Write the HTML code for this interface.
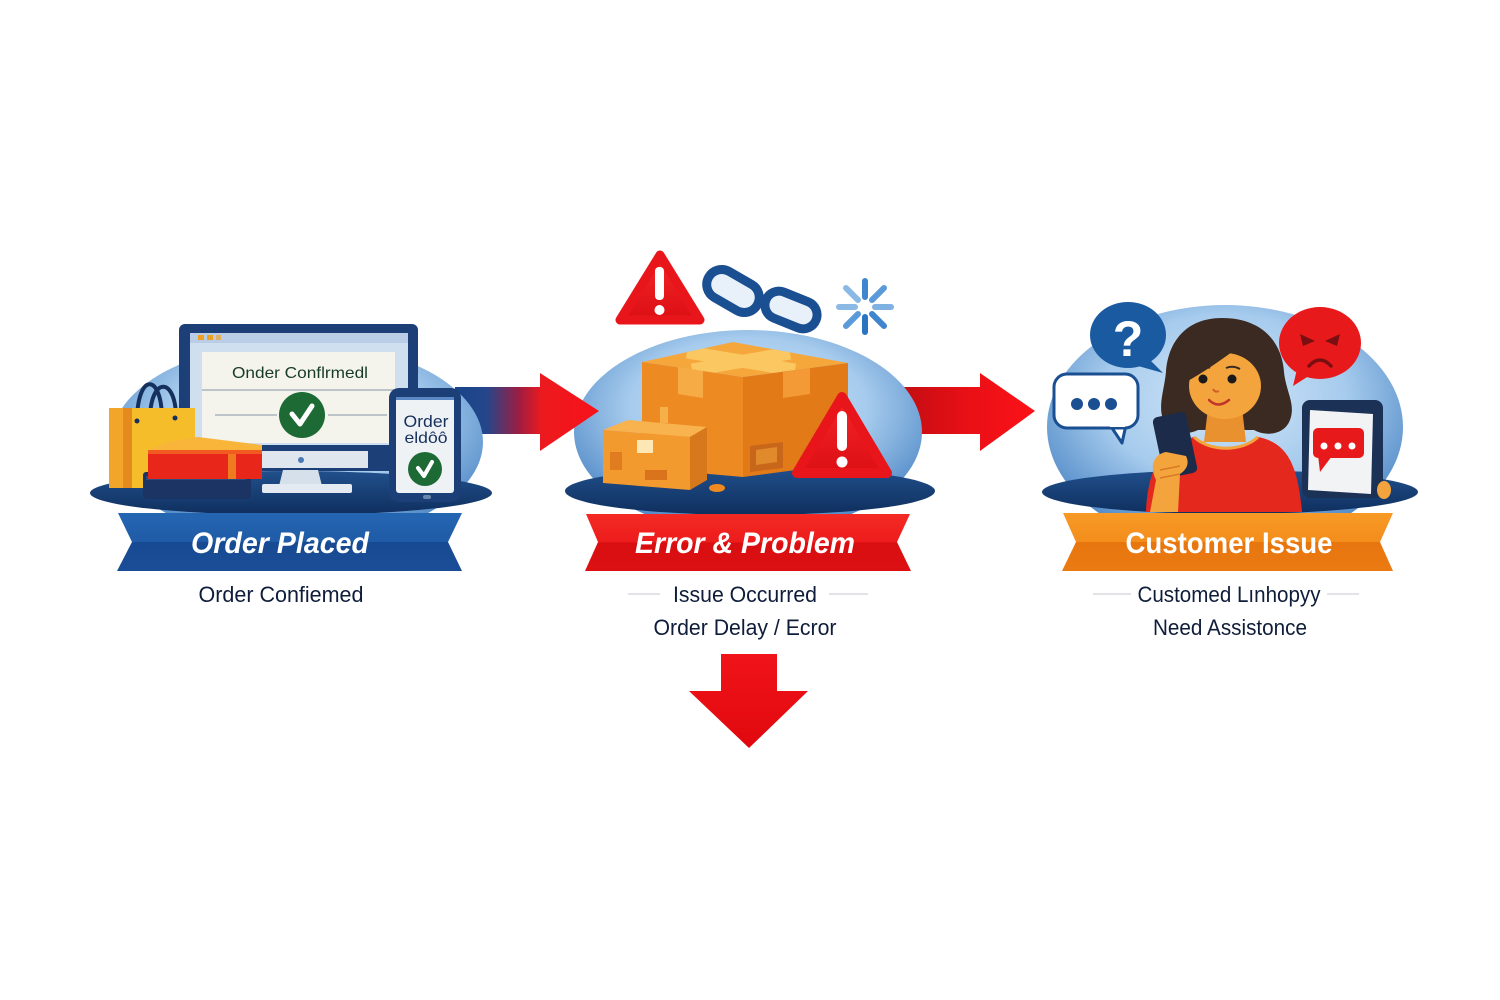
<!DOCTYPE html>
<html><head><meta charset="utf-8">
<style>
html,body{margin:0;padding:0;background:#fff;}
svg{display:block;}
</style></head>
<body>
<svg width="1500" height="1000" viewBox="0 0 1500 1000" xmlns="http://www.w3.org/2000/svg">
<defs>
<radialGradient id="blob" cx="0.5" cy="0.38" r="0.62">
<stop offset="0" stop-color="#d4e7f8"/>
<stop offset="0.55" stop-color="#a6cbed"/>
<stop offset="1" stop-color="#4c86c5"/>
</radialGradient>
<linearGradient id="base" x1="0" y1="0" x2="0" y2="1">
<stop offset="0" stop-color="#21508c"/>
<stop offset="1" stop-color="#0f2f5e"/>
</linearGradient>
<linearGradient id="a1" x1="462" y1="0" x2="600" y2="0" gradientUnits="userSpaceOnUse">
<stop offset="0" stop-color="#1b4589"/>
<stop offset="0.18" stop-color="#25468a"/>
<stop offset="0.42" stop-color="#a11c40"/>
<stop offset="0.58" stop-color="#ec1a1e"/>
<stop offset="1" stop-color="#f8121a"/>
</linearGradient>
<linearGradient id="a2" x1="905" y1="0" x2="1035" y2="0" gradientUnits="userSpaceOnUse">
<stop offset="0" stop-color="#c40d12"/>
<stop offset="0.5" stop-color="#ea1016"/>
<stop offset="1" stop-color="#fb1218"/>
</linearGradient>
<linearGradient id="a3" x1="0" y1="654" x2="0" y2="748" gradientUnits="userSpaceOnUse">
<stop offset="0" stop-color="#f0141a"/>
<stop offset="1" stop-color="#e0080e"/>
</linearGradient>
<linearGradient id="bBlue" x1="0" y1="0" x2="0" y2="1">
<stop offset="0" stop-color="#2566b3"/>
<stop offset="0.5" stop-color="#1f5ba6"/>
<stop offset="0.5" stop-color="#174a92"/>
<stop offset="1" stop-color="#1a4d96"/>
</linearGradient>
<linearGradient id="bRed" x1="0" y1="0" x2="0" y2="1">
<stop offset="0" stop-color="#f42a24"/>
<stop offset="0.5" stop-color="#ec1c1c"/>
<stop offset="0.5" stop-color="#d80e10"/>
<stop offset="1" stop-color="#dc1012"/>
</linearGradient>
<linearGradient id="bOr" x1="0" y1="0" x2="0" y2="1">
<stop offset="0" stop-color="#f89a26"/>
<stop offset="0.5" stop-color="#f38d1c"/>
<stop offset="0.5" stop-color="#e8760f"/>
<stop offset="1" stop-color="#ea7a12"/>
</linearGradient>
<linearGradient id="warn" x1="0" y1="0" x2="0" y2="1">
<stop offset="0" stop-color="#f4262a"/>
<stop offset="1" stop-color="#dc0f14"/>
</linearGradient>
<clipPath id="topface"><polygon points="642,362 733,342 848,363 743,377"/></clipPath>
</defs>

<rect width="1500" height="1000" fill="#fff"/>

<!-- arrow 2 (behind blob 2) -->
<rect x="900" y="387" width="82" height="47" fill="url(#a2)"/>
<polygon points="980,373 1035,411 980,451" fill="url(#a2)"/>

<!-- blob 2 -->
<ellipse cx="748" cy="432" rx="174" ry="102" fill="url(#blob)"/>
<ellipse cx="750" cy="491" rx="185" ry="24" fill="url(#base)"/>

<!-- arrow 1 -->
<rect x="455" y="387" width="87" height="47" fill="url(#a1)"/>
<polygon points="540,373 599,411 540,451" fill="url(#a1)"/>

<!-- blob 1 -->
<ellipse cx="297" cy="442" rx="186" ry="100" fill="url(#blob)"/>
<ellipse cx="291" cy="493" rx="201" ry="22" fill="url(#base)"/>

<!-- blob 3 -->
<ellipse cx="1225" cy="427" rx="178" ry="122" fill="url(#blob)"/>
<ellipse cx="1230" cy="492" rx="188" ry="22" fill="url(#base)"/>

<!-- down arrow -->
<rect x="721" y="654" width="56" height="40" fill="url(#a3)"/>
<polygon points="689,691 808,691 749,748" fill="url(#a3)"/>

<!-- ========== PANEL 1 ========== -->
<rect x="179" y="324" width="239" height="147" rx="6" fill="#1c3f77"/>
<rect x="190" y="333" width="218" height="112" fill="#cfdff0"/>
<rect x="190" y="333" width="218" height="10" fill="#b9cde6"/>
<rect x="198" y="335" width="6" height="5" fill="#f0a020"/>
<rect x="207" y="335" width="6" height="5" fill="#f0a020"/>
<rect x="216" y="335" width="5" height="5" fill="#e0b060"/>
<rect x="202" y="352" width="193" height="91" fill="#f4f4ec"/>
<text x="300" y="378" font-family="Liberation Sans, sans-serif" font-size="16" fill="#183a28" text-anchor="middle" textLength="136" lengthAdjust="spacingAndGlyphs">Onder Conflrmedl</text>
<line x1="202" y1="390" x2="395" y2="390" stroke="#a9b4bd" stroke-width="1.5"/>
<line x1="215" y1="415" x2="277" y2="415" stroke="#a9b4bd" stroke-width="1.5"/>
<line x1="328" y1="415" x2="387" y2="415" stroke="#a9b4bd" stroke-width="1.5"/>
<circle cx="302" cy="415" r="23" fill="#1d6a35"/>
<polyline points="292,414 300,424 312,406" fill="none" stroke="#fff" stroke-width="5" stroke-linecap="round" stroke-linejoin="round"/>
<rect x="258" y="451" width="110" height="17" fill="#dfe6ee"/>
<circle cx="301" cy="460" r="3" fill="#4a78b0"/>
<polygon points="283,470 318,470 322,486 279,486" fill="#d6e0ea"/>
<rect x="262" y="484" width="90" height="9" rx="2" fill="#e4eaf1"/>

<!-- phone -->
<rect x="389" y="388" width="72" height="114" rx="10" fill="#1c3f77"/>
<rect x="396" y="397" width="58" height="96" rx="3" fill="#eef2f4"/>
<rect x="396" y="397" width="58" height="3" fill="#5a88c4"/>
<text x="426" y="427" font-family="Liberation Sans, sans-serif" font-size="17" fill="#16305e" text-anchor="middle" textLength="45" lengthAdjust="spacingAndGlyphs">Order</text>
<text x="426" y="443" font-family="Liberation Sans, sans-serif" font-size="16" fill="#16305e" text-anchor="middle" textLength="43" lengthAdjust="spacingAndGlyphs">eldôô</text>
<circle cx="425" cy="469" r="17" fill="#1d6a35"/>
<polyline points="418,468 424,476 432,462" fill="none" stroke="#fff" stroke-width="4" stroke-linecap="round" stroke-linejoin="round"/>
<rect x="423" y="495" width="8" height="4" rx="2" fill="#6a86aa"/>

<!-- bag -->
<path d="M137,422 C137,372 162,372 162,420" fill="none" stroke="#16305e" stroke-width="4" stroke-linecap="round"/>
<path d="M150,420 C150,376 176,376 176,418" fill="none" stroke="#16305e" stroke-width="4" stroke-linecap="round"/>
<rect x="109" y="408" width="86" height="80" fill="#f6bd2a"/>
<rect x="109" y="408" width="14" height="80" fill="#f3a52a"/>
<rect x="123" y="408" width="9" height="80" fill="#e58a1c"/>
<circle cx="137" cy="421" r="2.5" fill="#16305e"/>
<circle cx="175" cy="418" r="2.5" fill="#16305e"/>

<!-- boxes -->
<rect x="143" y="472" width="108" height="27" rx="3" fill="#1b3463"/>
<rect x="146" y="476" width="100" height="4" fill="#2c4c80"/>
<polygon points="148,450 167,442 198,437 262,445 262,452 148,452" fill="#f8b53a"/>
<rect x="148" y="450" width="114" height="29" fill="#e8261a"/>
<rect x="228" y="450" width="8" height="29" fill="#f07a20"/>
<rect x="148" y="450" width="114" height="4" fill="#f35a22"/>

<!-- ========== PANEL 2 ========== -->
<polygon points="660,255 620,320 700,320" fill="url(#warn)" stroke="#e8161b" stroke-width="9" stroke-linejoin="round"/>
<rect x="655" y="267" width="9" height="33" rx="4" fill="#fff"/>
<circle cx="659.5" cy="310" r="5" fill="#fff"/>

<rect x="705" y="276" width="56" height="30" rx="15" transform="rotate(30 733 291)" fill="#e8f0fa" stroke="#1a4f92" stroke-width="9"/>
<rect x="764" y="296" width="54" height="28" rx="14" transform="rotate(22 791 310)" fill="#e8f0fa" stroke="#1a4f92" stroke-width="9"/>

<g stroke-width="6" stroke-linecap="round">
<line x1="865" y1="297" x2="865" y2="281" stroke="#3f86cf"/>
<line x1="872" y1="300" x2="884" y2="288" stroke="#5b9ad8"/>
<line x1="875" y1="307" x2="891" y2="307" stroke="#7fb1e3"/>
<line x1="872" y1="314" x2="884" y2="326" stroke="#3f86cf"/>
<line x1="865" y1="317" x2="865" y2="332" stroke="#2b74c0"/>
<line x1="858" y1="314" x2="846" y2="326" stroke="#5b9ad8"/>
<line x1="855" y1="307" x2="839" y2="307" stroke="#8bb9e6"/>
<line x1="858" y1="300" x2="846" y2="288" stroke="#8bb9e6"/>
</g>

<!-- big box -->
<polygon points="642,362 733,342 848,363 743,377" fill="#f5a73c"/>
<g clip-path="url(#topface)">
<line x1="687" y1="352" x2="795" y2="370" stroke="#fbc760" stroke-width="13"/>
<line x1="790" y1="353" x2="692" y2="370" stroke="#fbc760" stroke-width="13"/>
</g>
<polygon points="642,362 743,377 743,477 642,468" fill="#ee8a22"/>
<polygon points="743,377 848,363 848,463 743,477" fill="#e27a18"/>
<polygon points="678,367 703,371 703,398 678,394" fill="#f6ab45"/>
<polygon points="783,372 810,368 810,394 783,398" fill="#f39a36"/>
<polygon points="750,446 783,442 783,468 750,472" fill="#c8661a"/>
<polygon points="756,450 777,447 777,462 756,465" fill="#e08a2c"/>

<!-- small box -->
<rect x="660" y="407" width="8" height="16" fill="#f6b04a"/>
<polygon points="603,430 628,420 707,427 690,437" fill="#f8b24e"/>
<polygon points="603,430 690,437 690,490 603,483" fill="#f29a2e"/>
<polygon points="690,437 707,427 707,480 690,490" fill="#d8781c"/>
<rect x="637" y="440" width="16" height="13" fill="#fde7b4"/>
<rect x="610" y="452" width="12" height="18" fill="#e07d20"/>
<rect x="645" y="470" width="22" height="10" fill="#d9741c"/>
<ellipse cx="717" cy="488" rx="8" ry="4" fill="#f08a20"/>

<polygon points="842,397 797,473 887,473" fill="url(#warn)" stroke="#e8161b" stroke-width="10" stroke-linejoin="round"/>
<rect x="837" y="411" width="10" height="40" rx="5" fill="#fff"/>
<circle cx="842" cy="462" r="5.5" fill="#fff"/>

<!-- ========== PANEL 3 ========== -->
<path d="M1150,360 L1163,373 L1138,366 Z" fill="#1a5aa0"/>
<ellipse cx="1128" cy="335" rx="38" ry="33" fill="#1a5aa0"/>
<text x="1128" y="356" font-family="Liberation Sans, sans-serif" font-size="50" font-weight="bold" fill="#fff" text-anchor="middle">?</text>

<path d="M1298,365 L1293,386 L1315,372 Z" fill="#e8191b"/>
<ellipse cx="1320" cy="343" rx="41" ry="36" fill="#e8191b"/>
<path d="M1300,334 L1315,341 L1303,346 Z" fill="#7a0f12"/>
<path d="M1340,334 L1325,341 L1337,346 Z" fill="#7a0f12"/>
<path d="M1309,366 Q1320,354 1331,366" fill="none" stroke="#7a0f12" stroke-width="3.5" stroke-linecap="round"/>

<path d="M1110,425 L1122,443 L1126,425 Z" fill="#fff" stroke="#1a4f92" stroke-width="3" stroke-linejoin="round"/>
<rect x="1054" y="374" width="84" height="54" rx="13" fill="#fff" stroke="#1a4f92" stroke-width="3"/>
<rect x="1110" y="422" width="15" height="5" fill="#fff"/>
<circle cx="1077" cy="404" r="6" fill="#1a4f92"/>
<circle cx="1094" cy="404" r="6" fill="#1a4f92"/>
<circle cx="1111" cy="404" r="6" fill="#1a4f92"/>

<path d="M1222,318 C1186,318 1168,342 1166,372 C1164,392 1156,410 1166,425 C1174,436 1190,434 1198,430 L1254,430 C1264,436 1284,436 1290,420 C1296,404 1286,392 1284,372 C1282,342 1262,318 1222,318 Z" fill="#3a2a22"/>
<path d="M1208,408 L1242,408 L1246,442 L1204,442 Z" fill="#e8912e"/>
<ellipse cx="1225" cy="386" rx="36" ry="33" fill="#f4a43c"/>
<path d="M1186,382 C1186,350 1203,333 1226,333 C1252,333 1266,352 1265,380 C1256,364 1244,356 1232,352 C1218,362 1204,372 1186,382 Z" fill="#3a2a22"/>
<circle cx="1203" cy="379" r="4.5" fill="#1a1a1a"/>
<circle cx="1232" cy="379" r="4.5" fill="#1a1a1a"/>
<path d="M1196,369 Q1203,365 1210,368" fill="none" stroke="#3a2a22" stroke-width="2"/>
<path d="M1226,368 Q1233,365 1240,369" fill="none" stroke="#3a2a22" stroke-width="2"/>
<path d="M1213,389 Q1215,393 1219,391" fill="none" stroke="#d0602a" stroke-width="2"/>
<path d="M1209,400 Q1218,409 1229,400" fill="none" stroke="#c0342a" stroke-width="2.5" stroke-linecap="round"/>
<path d="M1146,512 C1148,470 1160,445 1194,437 C1210,452 1242,452 1258,437 C1288,443 1298,466 1302,512 Z" fill="#e5281d"/>
<path d="M1194,437 C1210,452 1242,452 1258,437" fill="none" stroke="#f4a43c" stroke-width="3"/>
<rect x="1158" y="414" width="34" height="62" rx="5" transform="rotate(-12 1175 445)" fill="#1c2b4a"/>
<path d="M1150,512 L1156,480 C1150,468 1152,455 1166,452 L1186,456 C1190,464 1186,470 1180,474 L1178,512 Z" fill="#f4a43c"/>
<path d="M1160,470 L1180,466 M1160,478 L1180,474" stroke="#d87a24" stroke-width="1.5"/>

<rect x="1302" y="400" width="81" height="98" rx="8" fill="#1c3156"/>
<polygon points="1310,410 1373,414 1371,494 1308,490" fill="#f2f3f5"/>
<rect x="1313" y="428" width="51" height="30" rx="5" fill="#e8191b"/>
<polygon points="1318,455 1320,472 1332,456" fill="#e8191b"/>
<circle cx="1324" cy="446" r="3.5" fill="#fff"/>
<circle cx="1338" cy="446" r="3.5" fill="#fff"/>
<circle cx="1352" cy="446" r="3.5" fill="#fff"/>
<ellipse cx="1384" cy="490" rx="7" ry="9" fill="#f4a43c"/>

<!-- ========== BANNERS ========== -->
<polygon points="118,513 462,513 448,542 462,571 117,571 132,542" fill="url(#bBlue)"/>
<text x="280" y="553" font-family="Liberation Sans, sans-serif" font-size="30" font-weight="bold" font-style="italic" fill="#fff" text-anchor="middle" textLength="178" lengthAdjust="spacingAndGlyphs">Order Placed</text>

<polygon points="586,514 910,514 897,542 911,571 585,571 598,542" fill="url(#bRed)"/>
<text x="745" y="553" font-family="Liberation Sans, sans-serif" font-size="30" font-weight="bold" font-style="italic" fill="#fff" text-anchor="middle" textLength="220" lengthAdjust="spacingAndGlyphs">Error &amp; Problem</text>

<polygon points="1063,513 1393,513 1380,542 1393,571 1062,571 1076,542" fill="url(#bOr)"/>
<text x="1229" y="553" font-family="Liberation Sans, sans-serif" font-size="30" font-weight="bold" fill="#fff" text-anchor="middle" textLength="207" lengthAdjust="spacingAndGlyphs">Customer Issue</text>

<g font-family="Liberation Sans, sans-serif" font-size="22" fill="#0f1d3a" text-anchor="middle">
<text x="281" y="602" textLength="165" lengthAdjust="spacingAndGlyphs">Order Confiemed</text>
<text x="745" y="602" textLength="144" lengthAdjust="spacingAndGlyphs">Issue Occurred</text>
<text x="745" y="635" textLength="183" lengthAdjust="spacingAndGlyphs">Order Delay  / Ecror</text>
<text x="1229" y="602" textLength="183" lengthAdjust="spacingAndGlyphs">Customed Lınhopyy</text>
<text x="1230" y="635" textLength="154" lengthAdjust="spacingAndGlyphs">Need Assistonce</text>
</g>
<g stroke="#d8dadd" stroke-width="1.5">
<line x1="628" y1="594" x2="660" y2="594"/>
<line x1="829" y1="594" x2="868" y2="594"/>
<line x1="1093" y1="594" x2="1131" y2="594"/>
<line x1="1327" y1="594" x2="1359" y2="594"/>
</g>
</svg>
</body></html>
